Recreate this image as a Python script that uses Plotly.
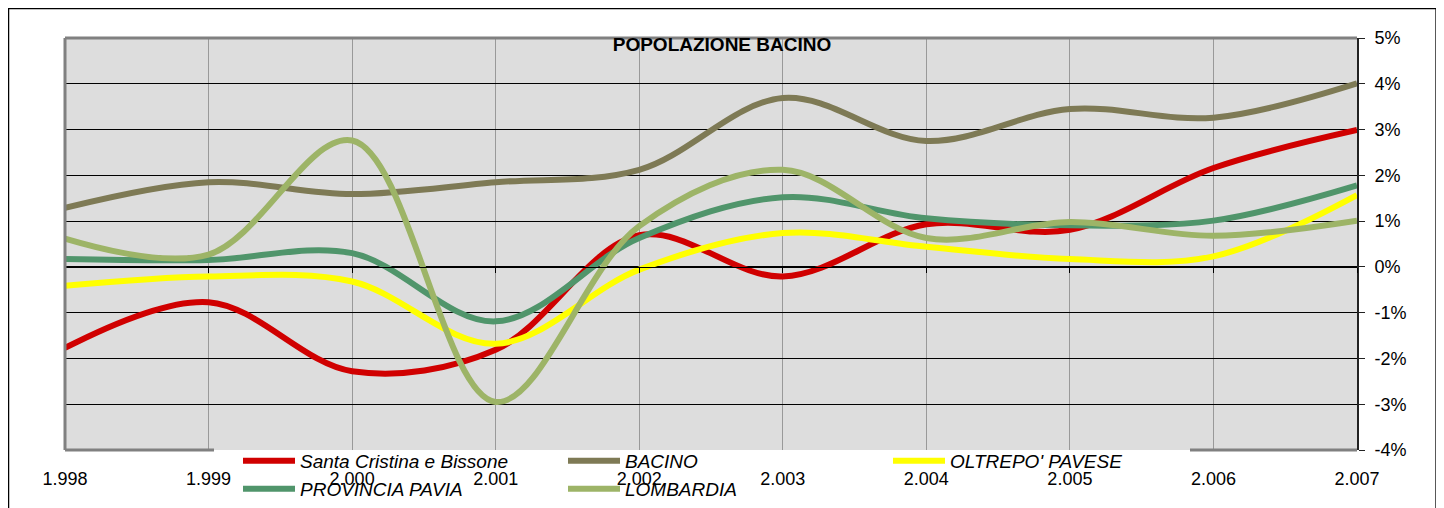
import plotly.graph_objects as go

years = [1998, 1999, 2000, 2001, 2002, 2003, 2004, 2005, 2006, 2007]
year_labels = ["1.998", "1.999", "2.000", "2.001", "2.002", "2.003", "2.004", "2.005", "2.006", "2.007"]

santa_cristina = [-1.77, -0.77, -2.28, -1.81, 0.69, -0.21, 0.93, 0.81, 2.16, 2.99]
bacino = [1.29, 1.85, 1.59, 1.85, 2.12, 3.69, 2.75, 3.45, 3.26, 4.01]
oltrepo = [-0.41, -0.21, -0.32, -1.68, -0.06, 0.74, 0.44, 0.17, 0.23, 1.57]
provincia_pavia = [0.17, 0.15, 0.30, -1.19, 0.63, 1.52, 1.06, 0.91, 1.01, 1.78]
lombardia = [0.62, 0.27, 2.76, -2.95, 0.89, 2.12, 0.63, 0.98, 0.68, 1.01]

y_ticks = [-4, -3, -2, -1, 0, 1, 2, 3, 4, 5]
y_tick_labels = ["-4%", "-3%", "-2%", "-1%", "0%", "1%", "2%", "3%", "4%", "5%"]

series = [
    ("Santa Cristina e Bissone", santa_cristina, "#D00000", "legend"),
    ("BACINO", bacino, "#7E7A55", "legend2"),
    ("OLTREPO' PAVESE", oltrepo, "#FFFF00", "legend3"),
    ("PROVINCIA PAVIA", provincia_pavia, "#50956B", "legend4"),
    ("LOMBARDIA", lombardia, "#9DB467", "legend5"),
]

FONT = "Liberation Sans, Arial, sans-serif"

fig = go.Figure()
for name, vals, color, lg in series:
    fig.add_trace(go.Scatter(
        x=years, y=vals, name=name, mode="lines",
        line=dict(color=color, width=6, shape="spline", smoothing=1),
        legend=lg,
    ))

# dummy trace for the x axis crossing at 0%
fig.add_trace(go.Scatter(x=[years[0]], y=[None], xaxis="x2", showlegend=False,
                         hoverinfo="skip", mode="lines"))

# page has an 8px body margin: figure is 8px smaller and everything is measured
# in reference-page pixels, converted to plot-area (paper) fractions.
OFF = 8
W, H = 1444 - OFF, 508 - OFF
L, R, T, B = 65, 1357, 38, 450          # plot area in reference page pixels
pw, ph = R - L, B - T

def px(xpix):
    return (xpix - L) / pw

def py(ypix):
    return (B - ypix) / ph

legend_common = dict(
    bgcolor="rgba(0,0,0,0)", borderwidth=0,
    font=dict(family=FONT, size=19, color="black", style="italic"),
    itemwidth=52, xanchor="left", yanchor="middle", orientation="h",
    tracegroupgap=0, itemclick=False,
)
row1_y, row2_y = 461, 489
col_x = [238, 563, 888]
legends = {
    "legend": dict(x=px(col_x[0]), y=py(row1_y), **legend_common),
    "legend2": dict(x=px(col_x[1]), y=py(row1_y), **legend_common),
    "legend3": dict(x=px(col_x[2]), y=py(row1_y), **legend_common),
    "legend4": dict(x=px(col_x[0]), y=py(row2_y), **legend_common),
    "legend5": dict(x=px(col_x[1]), y=py(row2_y), **legend_common),
}

fig.update_layout(
    width=W, height=H,
    margin=dict(l=L - OFF, r=(1444 - R), t=T - OFF, b=(508 - B), pad=0, autoexpand=False),
    paper_bgcolor="white",
    plot_bgcolor="#DDDDDD",
    font=dict(family=FONT, size=18, color="black"),
    title=dict(text="<b>POPOLAZIONE BACINO</b>", x=(722 - OFF) / W, xref="container",
               xanchor="center", y=1 - (44 - OFF) / H, yref="container", yanchor="middle",
               font=dict(family=FONT, size=19, color="black")),
    xaxis=dict(range=[years[0], years[-1]], tickvals=years, ticktext=year_labels,
               showgrid=True, gridcolor="#999999", gridwidth=1, zeroline=False,
               showline=False, ticks="", ticklabelstandoff=16,
               tickfont=dict(family=FONT, size=18, color="black")),
    xaxis2=dict(range=[years[0], years[-1]], overlaying="x", anchor="free",
                position=4 / 9, tickvals=years, showticklabels=False,
                showgrid=False, zeroline=False, showline=True, linecolor="black",
                linewidth=1, ticks="outside", ticklen=5, tickcolor="black"),
    yaxis=dict(range=[-4, 5], tickvals=y_ticks, ticktext=y_tick_labels, side="right",
               showgrid=True, gridcolor="black", gridwidth=1, zeroline=False,
               showline=True, linecolor="#222222", linewidth=2, mirror=False,
               ticks="outside", ticklen=6, tickcolor="#222222", ticklabelstandoff=6,
               tickfont=dict(family=FONT, size=18, color="black")),
    showlegend=True,
    **legends,
)

shapes = [
    # outer chart border
    dict(type="rect", xref="paper", yref="paper", x0=px(8.6), x1=px(1436), y0=py(8.6), y1=py(530),
         line=dict(color="black", width=1.3), fillcolor="rgba(0,0,0,0)", layer="above"),
    # plot area gray border: top, left, bottom segments
    dict(type="line", xref="paper", yref="paper", x0=0, x1=1, y0=1, y1=1,
         line=dict(color="#808080", width=3), layer="above"),
    dict(type="line", xref="paper", yref="paper", x0=0, x1=0, y0=0, y1=1,
         line=dict(color="#808080", width=3), layer="above"),
    dict(type="line", xref="paper", yref="paper", x0=0, x1=px(214), y0=0, y1=0,
         line=dict(color="#808080", width=3), layer="above"),
    dict(type="line", xref="paper", yref="paper", x0=px(1190), x1=1, y0=0, y1=0,
         line=dict(color="#808080", width=3), layer="above"),
]
fig.update_layout(shapes=shapes)

fig.write_html("out.html")
